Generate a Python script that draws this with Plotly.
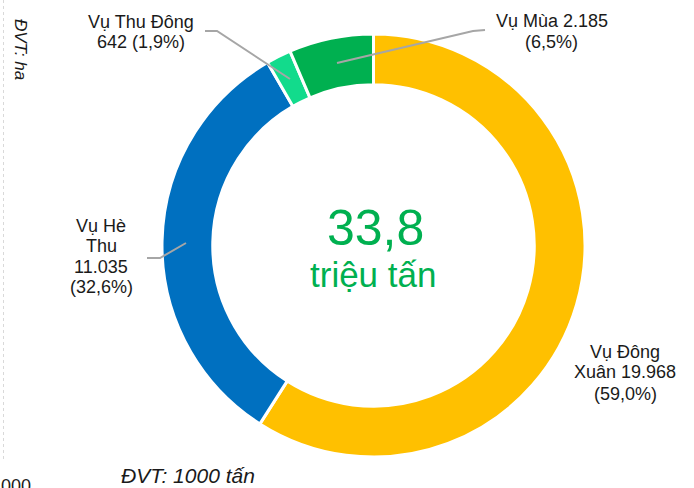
import plotly.graph_objects as go

W, H = 694, 488

categories = ["Vụ Đông Xuân", "Vụ Hè Thu", "Vụ Thu Đông", "Vụ Mùa"]
values = [19968, 11035, 642, 2185]
colors = ["#FFC000", "#0070C0", "#12DB8C", "#00B050"]
total_label = "33,8"
total_unit = "triệu tấn"

FONT = "Liberation Sans, Arial, sans-serif"


def fmt_num(v):
    return f"{v:,}".replace(",", ".")


def fmt_pct(v):
    return f"({v / sum(values) * 100:.1f}%)".replace(".", ",")


def px(x):
    return x / W


def py(y):
    return 1 - y / H


# label text lines (per category)
vals = {c: v for c, v in zip(categories, values)}
label_lines = {
    "Vụ Đông Xuân": ["Vụ Đông", "Xuân " + fmt_num(vals["Vụ Đông Xuân"]), fmt_pct(vals["Vụ Đông Xuân"])],
    "Vụ Hè Thu": ["Vụ Hè", "Thu", fmt_num(vals["Vụ Hè Thu"]), fmt_pct(vals["Vụ Hè Thu"])],
    "Vụ Thu Đông": ["Vụ Thu Đông", fmt_num(vals["Vụ Thu Đông"]) + " " + fmt_pct(vals["Vụ Thu Đông"])],
    "Vụ Mùa": ["Vụ Mùa " + fmt_num(vals["Vụ Mùa"]), fmt_pct(vals["Vụ Mùa"])],
}
# positions: center x, line middle y's (pixels)
label_pos = {
    "Vụ Đông Xuân": (625, [351.8, 371.8, 393.8]),
    "Vụ Hè Thu": (101, [225.8, 245.8, 266.8, 286.8]),
    "Vụ Thu Đông": (141, [21.8, 41.8]),
    "Vụ Mùa": (551.5, [20.8, 41.8]),
}
leaders = {
    "Vụ Hè Thu": [(147, 258), (160, 258), (186, 243)],
    "Vụ Thu Đông": [(205, 31), (217, 31), (290, 79)],
    "Vụ Mùa": [(485, 30), (473, 31), (337, 63)],
}

cx, cy, R = 373.5, 245.5, 211.5

fig = go.Figure(
    go.Pie(
        labels=categories,
        values=values,
        hole=0.76,
        sort=False,
        direction="clockwise",
        rotation=0,
        marker=dict(colors=colors, line=dict(color="white", width=3)),
        textinfo="none",
        hoverinfo="label+value+percent",
        showlegend=False,
        domain=dict(x=[px(cx - R), px(cx + R)], y=[py(cy + R), py(cy - R)]),
    )
)

annotations = []
for cat in categories:
    x, ys = label_pos[cat]
    for line, y in zip(label_lines[cat], ys):
        annotations.append(dict(
            x=px(x), y=py(y), xref="paper", yref="paper",
            text=line, showarrow=False, xanchor="center", yanchor="middle",
            font=dict(family=FONT, size=18, color="#1A1A1A"),
        ))

annotations += [
    dict(x=px(376), y=py(227.7), xref="paper", yref="paper", text=total_label,
         showarrow=False, xanchor="center", yanchor="middle",
         font=dict(family=FONT, size=50, color="#00B050")),
    dict(x=px(373.5), y=py(274.9), xref="paper", yref="paper", text=total_unit,
         showarrow=False, xanchor="center", yanchor="middle",
         font=dict(family=FONT, size=35, color="#00B050")),
    dict(x=px(187.5), y=py(475.7), xref="paper", yref="paper", text="<i>ĐVT: 1000 tấn</i>",
         showarrow=False, xanchor="center", yanchor="middle",
         font=dict(family=FONT, size=21, color="#1A1A1A")),
    dict(x=px(-1), y=py(485.8), xref="paper", yref="paper", text="000",
         showarrow=False, xanchor="left", yanchor="middle",
         font=dict(family=FONT, size=18, color="#1A1A1A")),
    dict(x=px(20), y=py(49), xref="paper", yref="paper", text="<i>ĐVT: ha</i>",
         showarrow=False, xanchor="center", yanchor="middle", textangle=90,
         font=dict(family=FONT, size=17, color="#1A1A1A")),
]

shapes = []
for cat, pts in leaders.items():
    path = "M " + " L ".join(f"{px(x)},{py(y)}" for x, y in pts)
    shapes.append(dict(type="path", xref="paper", yref="paper", path=path,
                       line=dict(color="#A6A6A6", width=2)))
shapes.append(dict(type="line", xref="paper", yref="paper",
                   x0=px(3.5), x1=px(3.5), y0=py(0), y1=py(460),
                   line=dict(color="#D9D9D9", width=1, dash="dot")))

fig.update_layout(
    width=W, height=H,
    margin=dict(l=0, r=0, t=0, b=0),
    paper_bgcolor="white", plot_bgcolor="white",
    annotations=annotations, shapes=shapes,
)

fig.write_html(
    "out.html",
    config={"displayModeBar": False},
    post_script="document.body.style.margin='0';document.body.style.overflow='hidden';",
)
